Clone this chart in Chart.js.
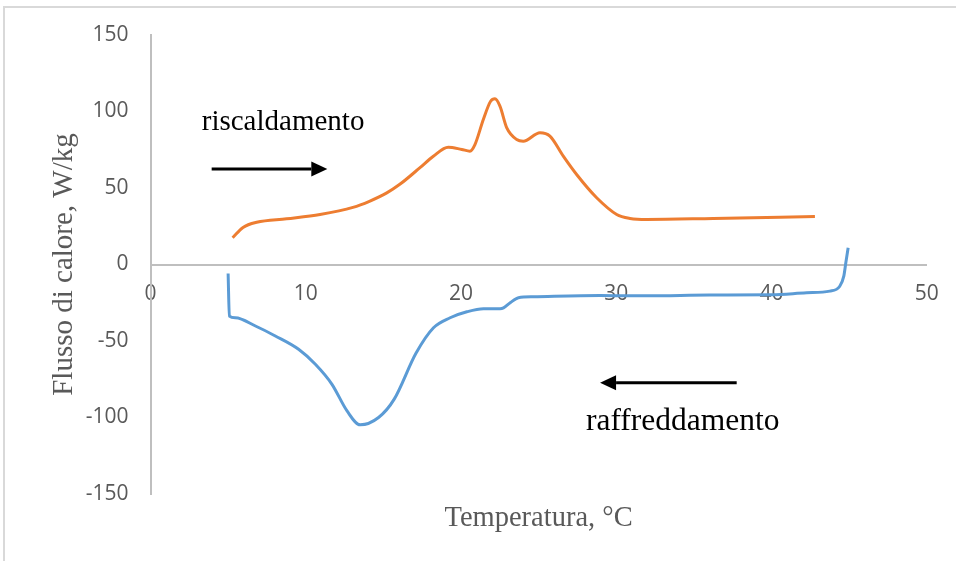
<!DOCTYPE html>
<html>
<head>
<meta charset="utf-8">
<script src="https://cdn.jsdelivr.net/npm/chart.js@4.4.1/dist/chart.umd.min.js"></script>
<style>
  html, body { margin: 0; padding: 0; background: #fff; }
</style>
</head>
<body>
<canvas id="dsc" width="956" height="561"></canvas>
<script>
// heating curve (riscaldamento)
const heatTemp = [5.29, 5.96, 6.84, 8.77, 10.92, 13.04, 14.1, 15.22, 16.06, 17.36, 18.22, 19.18, 20.05, 20.58, 20.9, 21.44, 21.91, 22.19, 22.51, 22.95, 23.59, 24.01, 25.09, 25.73, 26.59, 27.45, 28.74, 30.03, 30.89, 31.96, 36.25, 40.55, 42.8];
const heatFlux = [17.5, 24.2, 27.6, 29.9, 32.7, 37.3, 41.3, 46.8, 52.4, 63.3, 70.8, 76.7, 75.2, 74.1, 78.4, 94.8, 106.7, 108.3, 103.5, 89.3, 81.7, 80.6, 86.1, 83.9, 70.8, 58.8, 43.6, 32.7, 30.1, 29.4, 30.1, 30.9, 31.4];

// cooling curve (raffreddamento)
const coolTemp = [5.0, 5.08, 5.47, 6.76, 8.04, 9.54, 10.62, 11.69, 12.66, 13.51, 14.69, 15.7, 17.1, 18.23, 19.3, 20.38, 21.45, 22.52, 22.74, 23.17, 23.7, 24.67, 28.96, 32, 36, 40, 42.26, 43.76, 44.4, 44.66, 44.79, 44.94];
const coolFlux = [-5.9, -33.7, -34.8, -40.2, -46.7, -55.4, -65.2, -78.3, -95.7, -104.8, -100, -88, -58, -41.3, -34.8, -30.9, -28.9, -28.9, -28.3, -25, -21.7, -21.1, -20.2, -20.5, -20, -19.8, -18.5, -17.4, -14.2, -7.6, 1.1, 10.9];

const xTicks = [0, 10, 20, 30, 40, 50];
const yTicks = [-150, -100, -50, 0, 50, 100, 150];

// text notes and arrows, in data units
const noteText = ['riscaldamento', 'raffreddamento'];
const noteX = [3.3, 28.05];
const noteY = [87.8, -108.3];
const noteSize = [29, 31.5];
const arrowFrom = [[3.94, 62.5], [37.76, -77.3]];
const arrowTo = [[11.39, 62.5], [28.96, -77.3]];

function toPoints(xs, ys) {
    return xs.map((v, i) => ({ x: v, y: ys[i] }));
}

const decorations = {
    id: 'decorations',
    beforeDraw(chart) {
        const ctx = chart.ctx;
        ctx.save();
        ctx.strokeStyle = '#d9d9d9';
        ctx.lineWidth = 2;
        ctx.beginPath();
        ctx.moveTo(4, 561);
        ctx.lineTo(4, 7);
        ctx.lineTo(956, 7);
        ctx.stroke();
        ctx.restore();
    },
    afterDraw(chart) {
        const ctx = chart.ctx;
        const area = chart.chartArea;
        const sx = chart.scales.x, sy = chart.scales.y;

        ctx.save();
        ctx.fillStyle = '#595959';
        ctx.textAlign = 'center';
        ctx.textBaseline = 'alphabetic';
        ctx.font = '28.5px "Liberation Serif"';
        ctx.fillText('Temperatura, °C', (area.left + area.right) / 2, area.bottom + 32);
        ctx.font = '29px "Liberation Serif"';
        ctx.translate(72, (area.top + area.bottom) / 2);
        ctx.rotate(-Math.PI / 2);
        ctx.fillText('Flusso di calore, W/kg', 0, 0);
        ctx.restore();

        ctx.save();
        ctx.fillStyle = '#000';
        ctx.strokeStyle = '#000';
        ctx.textAlign = 'left';
        ctx.textBaseline = 'alphabetic';
        noteText.forEach((t, i) => {
            ctx.font = noteSize[i] + 'px "Liberation Serif"';
            ctx.fillText(t, sx.getPixelForValue(noteX[i]), sy.getPixelForValue(noteY[i]));
        });
        arrowFrom.forEach((p, i) => {
            const x1 = sx.getPixelForValue(p[0]), y1 = sy.getPixelForValue(p[1]);
            const x2 = sx.getPixelForValue(arrowTo[i][0]), y2 = sy.getPixelForValue(arrowTo[i][1]);
            const dir = Math.sign(x2 - x1);
            const head = 16;
            ctx.lineWidth = 3;
            ctx.beginPath();
            ctx.moveTo(x1, y1);
            ctx.lineTo(x2 - dir * head, y2);
            ctx.stroke();
            ctx.beginPath();
            ctx.moveTo(x2, y2);
            ctx.lineTo(x2 - dir * head, y2 - 7.5);
            ctx.lineTo(x2 - dir * head, y2 + 7.5);
            ctx.closePath();
            ctx.fill();
        });
        ctx.restore();
    }
};

const tickFont = { family: '"Open Sans", sans-serif', size: 21 };

new Chart(document.getElementById('dsc'), {
    type: 'scatter',
    data: {
        datasets: [
            {
                label: 'riscaldamento',
                data: toPoints(heatTemp, heatFlux),
                borderColor: '#ED7D31',
                borderWidth: 3,
                showLine: true,
                pointRadius: 0,
                cubicInterpolationMode: 'monotone'
            },
            {
                label: 'raffreddamento',
                data: toPoints(coolTemp, coolFlux),
                borderColor: '#5B9BD5',
                borderWidth: 3,
                showLine: true,
                pointRadius: 0,
                cubicInterpolationMode: 'monotone'
            }
        ]
    },
    options: {
        responsive: false,
        animation: false,
        layout: { padding: { left: 0, top: 35, right: 29.3, bottom: 67 } },
        plugins: {
            legend: { display: false },
            tooltip: { enabled: false }
        },
        scales: {
            x: {
                type: 'linear',
                min: 0,
                max: 50,
                position: { y: 0 },
                afterBuildTicks: scale => { scale.ticks = xTicks.map(v => ({ value: v })); },
                grid: { display: false, drawTicks: false },
                border: { color: '#bfbfbf', width: 2 },
                ticks: { color: '#595959', font: tickFont, padding: 17, maxRotation: 0 }
            },
            y: {
                type: 'linear',
                min: -150,
                max: 150,
                position: 'left',
                afterBuildTicks: scale => { scale.ticks = yTicks.map(v => ({ value: v })); },
                afterFit: scale => { scale.width = 150.5; },
                grid: { display: false, drawTicks: false },
                border: { color: '#bfbfbf', width: 2 },
                ticks: { color: '#595959', font: tickFont, padding: 22 }
            }
        }
    },
    plugins: [decorations]
});
</script>
</body>
</html>
